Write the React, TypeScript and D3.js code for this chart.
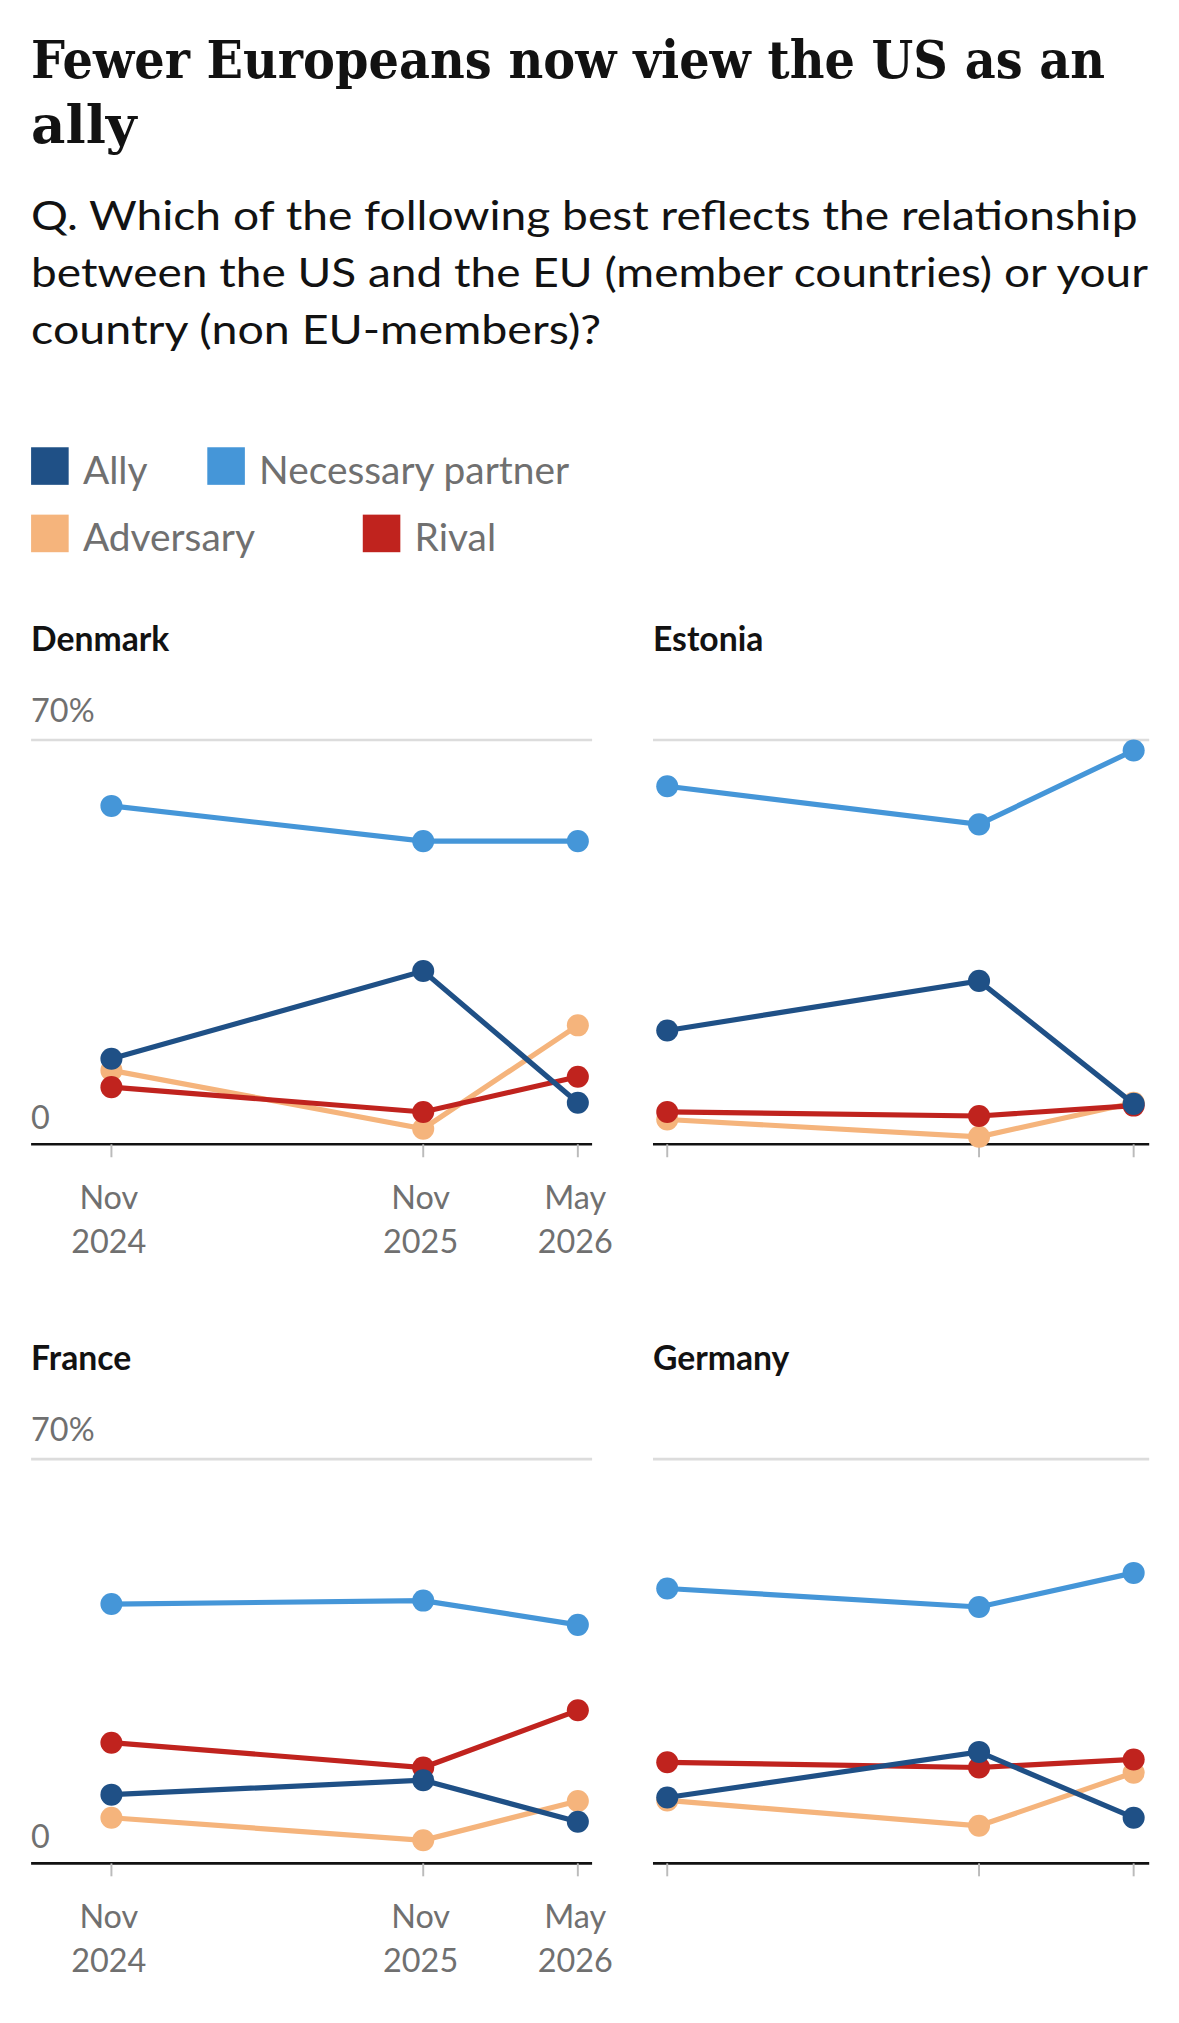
import React from "react";
import * as d3 from "d3";

const dates = ["2024-11-01", "2025-11-01", "2026-05-01"].map((d) => new Date(d));
const tickLabels = [["Nov", "2024"], ["Nov", "2025"], ["May", "2026"]];
const seriesNames = ["Ally", "Necessary partner", "Adversary", "Rival"];
const seriesColors = ["#1f5086", "#4596d8", "#f5b47c", "#c0231e"];

const denmark = [[14.8, 30, 7.2], [58.6, 52.5, 52.5], [12.8, 2.7, 20.6], [9.9, 5.6, 11.7]];
const estonia = [[19.7, 28.3, 7], [62, 55.4, 68.2], [4.3, 1.3, 7.2], [5.6, 4.9, 6.7]];
const france = [[11.9, 14.4, 7.2], [44.9, 45.5, 41.3], [7.9, 4, 10.8], [20.9, 16.6, 26.5]];
const germany = [[11.4, 19.3, 7.9], [47.6, 44.4, 50.3], [10.9, 6.5, 15.7], [17.5, 16.6, 18]];

const panels = [
  { name: "Denmark", data: denmark, col: 0, row: 0 },
  { name: "Estonia", data: estonia, col: 1, row: 0 },
  { name: "France", data: france, col: 0, row: 1 },
  { name: "Germany", data: germany, col: 1, row: 1 },
];

const sans = "Lato, 'Open Sans', sans-serif";

const Panel = ({ p }: { p: typeof panels[0] }) => {
  const left = p.col === 0;
  const x0 = left ? 24 : 504;
  const top = p.row === 0 ? 480 : 1035;
  const w = left ? 433 : 383;
  const x = d3
    .scaleTime()
    .domain([dates[0], dates[2]])
    .range(left ? [x0 + 62, x0 + 422] : [x0 + 11, x0 + 371]);
  const yBase = top + 403;
  const y = d3.scaleLinear().domain([0, 70]).range([yBase, yBase - 312]);
  const line = d3.line<number>().x((_, i) => x(dates[i])).y((v) => y(v));
  return (
    <g>
      <text x={x0} y={top + 22} fontFamily={sans} fontWeight="bold" fontSize={26} fill="#121212">{p.name}</text>
      {left && <text x={x0} y={y(70) - 14} fontFamily={sans} fontSize={25} fill="#707070">70%</text>}
      {left && <text x={x0} y={y(0) - 12} fontFamily={sans} fontSize={25} fill="#707070">0</text>}
      <line x1={x0} x2={x0 + w} y1={y(70)} y2={y(70)} stroke="#dcdcdc" strokeWidth={2} />
      <line x1={x0} x2={x0 + w} y1={y(0)} y2={y(0)} stroke="#121212" strokeWidth={2} />
      {dates.map((d, i) => (
        <g key={i}>
          <line x1={x(d)} x2={x(d)} y1={y(0)} y2={y(0) + 10} stroke="#bbb" strokeWidth={1.5} />
          {left && (
            <text textAnchor="middle" fontFamily={sans} fontSize={25} fill="#707070">
              <tspan x={x(d) - 2} y={y(0) + 50}>{tickLabels[i][0]}</tspan>
              <tspan x={x(d) - 2} y={y(0) + 84}>{tickLabels[i][1]}</tspan>
            </text>
          )}
        </g>
      ))}
      {[2, 3, 0, 1].map((s) => (
        <g key={s}>
          <path d={line(p.data[s]) || ""} fill="none" stroke={seriesColors[s]} strokeWidth={4} />
          {p.data[s].map((v, i) => (
            <circle key={i} cx={x(dates[i])} cy={y(v)} r={8.5} fill={seriesColors[s]} />
          ))}
        </g>
      ))}
    </g>
  );
};

const legendPos = [[24, 362], [160, 362], [24, 414], [280, 414]];

export default function App() {
  return (
    <svg
      viewBox="0 0 910 1561"
      width={1179}
      height={2023}
      style={{ position: "absolute", left: 0, top: 0, background: "#fff" }}
    >
      <text fontFamily="'DejaVu Serif', serif" fontWeight="bold" fontSize={41} fill="#121212">
        <tspan x={24} y={60} textLength={829} lengthAdjust="spacingAndGlyphs">Fewer Europeans now view the US as an</tspan>
        <tspan x={24} y={110}>ally</tspan>
      </text>
      <text fontFamily={sans} fontSize={32} fill="#121212">
        <tspan x={24} y={177} textLength={854} lengthAdjust="spacingAndGlyphs">Q. Which of the following best reflects the relationship</tspan>
        <tspan x={24} y={221} textLength={862} lengthAdjust="spacingAndGlyphs">between the US and the EU (member countries) or your</tspan>
        <tspan x={24} y={265} textLength={440} lengthAdjust="spacingAndGlyphs">country (non EU-members)?</tspan>
      </text>
      {seriesNames.map((n, i) => (
        <g key={n}>
          <rect x={legendPos[i][0]} y={legendPos[i][1] - 17} width={29} height={29} fill={seriesColors[i]} />
          <text x={legendPos[i][0] + 40} y={legendPos[i][1] + 11} fontFamily={sans} fontSize={30} fill="#707070">{n}</text>
        </g>
      ))}
      {panels.map((p) => <Panel key={p.name} p={p} />)}
    </svg>
  );
}
